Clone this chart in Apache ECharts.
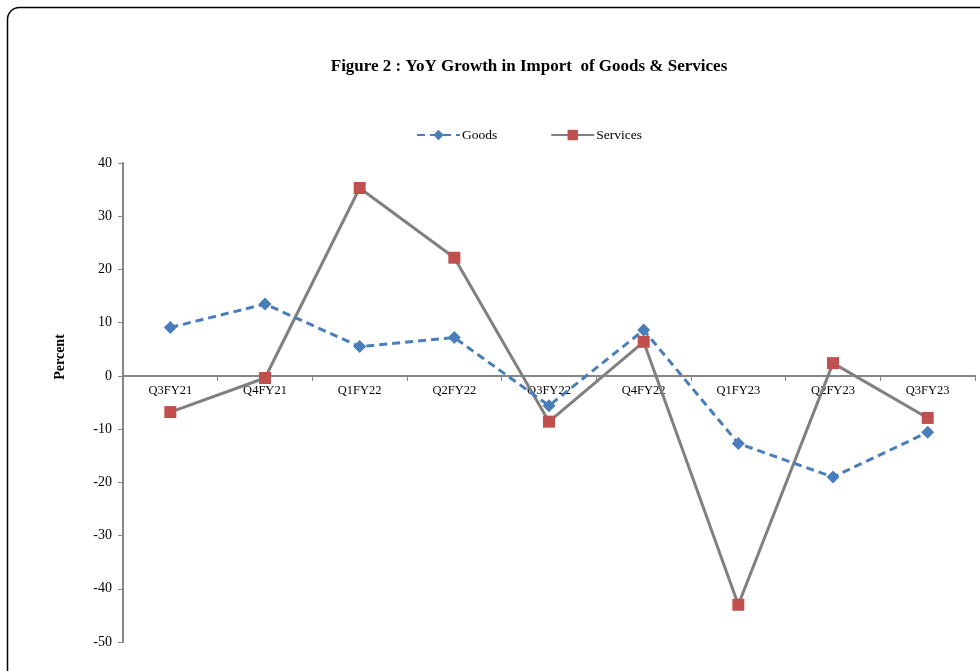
<!DOCTYPE html>
<html><head><meta charset="utf-8">
<script src="https://cdn.jsdelivr.net/npm/echarts@6/dist/echarts.min.js"></script>
<style>html,body{margin:0;padding:0;background:#fff}#c{width:980px;height:671px}</style>
</head><body><div id="c"></div>
<script>
const categories = ['Q3FY21','Q4FY21','Q1FY22','Q2FY22','Q3FY22','Q4FY22','Q1FY23','Q2FY23','Q3FY23'];
const goods = [9.1, 13.5, 5.5, 7.2, -5.6, 8.6, -12.7, -19.0, -10.6];
const services = [-6.8, -0.4, 35.3, 22.2, -8.6, 6.4, -43.0, 2.4, -7.9];
const yTicks = {min: -50, max: 40, interval: 10};
const FONT = 'Liberation Serif';

const gridTop = 163, gridBottomPx = 642;
const zeroOffset = -((gridBottomPx - gridTop) * (0 - yTicks.min) / (yTicks.max - yTicks.min));

const chart = echarts.init(document.getElementById('c'), null, {renderer: 'canvas'});
chart.setOption({
  animation: false,
  backgroundColor: '#fff',
  title: {
    text: 'Figure 2 : YoY Growth in Import  of Goods & Services',
    left: 524, top: 53, textAlign: 'center',
    textStyle: {fontFamily: FONT, fontSize: 17, fontWeight: 'bold', color: '#000'}
  },
  legend: {
    top: 128, left: 416, padding: 0, itemGap: 53, itemWidth: 43, itemHeight: 13,
    textStyle: {fontFamily: FONT, fontSize: 13.5, color: '#000', padding: [0,0,0,-3]},
    data: ['Goods', 'Services']
  },
  grid: {left: 123, right: 5, top: gridTop, bottom: 671 - gridBottomPx, containLabel: false},
  xAxis: {
    type: 'category', data: categories, boundaryGap: true,
    offset: zeroOffset,
    axisLine: {onZero: false, lineStyle: {color: '#868686', width: 2}},
    axisTick: {show: true, alignWithLabel: false, length: 5, lineStyle: {color: '#868686'}},
    axisLabel: {fontFamily: FONT, fontSize: 12.5, color: '#000', margin: 8}
  },
  yAxis: {
    type: 'value', min: yTicks.min, max: yTicks.max, interval: yTicks.interval,
    splitLine: {show: false},
    axisLine: {show: true, lineStyle: {color: '#868686', width: 2}},
    axisTick: {show: true, length: 5, lineStyle: {color: '#868686'}},
    axisLabel: {fontFamily: FONT, fontSize: 14, color: '#000', margin: 11}
  },
  graphic: [
    {type: 'rect', shape: {x: 7.5, y: 7.5, width: 1000, height: 700, r: 12},
     style: {fill: 'none', stroke: '#000', lineWidth: 1.5}, z: -10},
    {type: 'text', x: 60, y: 357, rotation: Math.PI / 2,
     style: {text: 'Percent', font: 'bold 14px "Liberation Serif"', fill: '#000', align: 'center', verticalAlign: 'middle'}}
  ],
  series: [
    {
      name: 'Goods', type: 'line', data: goods,
      symbol: 'diamond', symbolSize: 13,
      itemStyle: {color: '#4a7ebb'},
      lineStyle: {color: '#4a7ebb', width: 3, type: [8, 5]},
      z: 3
    },
    {
      name: 'Services', type: 'line', data: services,
      symbol: 'rect', symbolSize: 12,
      itemStyle: {color: '#c0504d'},
      lineStyle: {color: '#808080', width: 3},
      z: 2
    }
  ]
});
</script></body></html>
